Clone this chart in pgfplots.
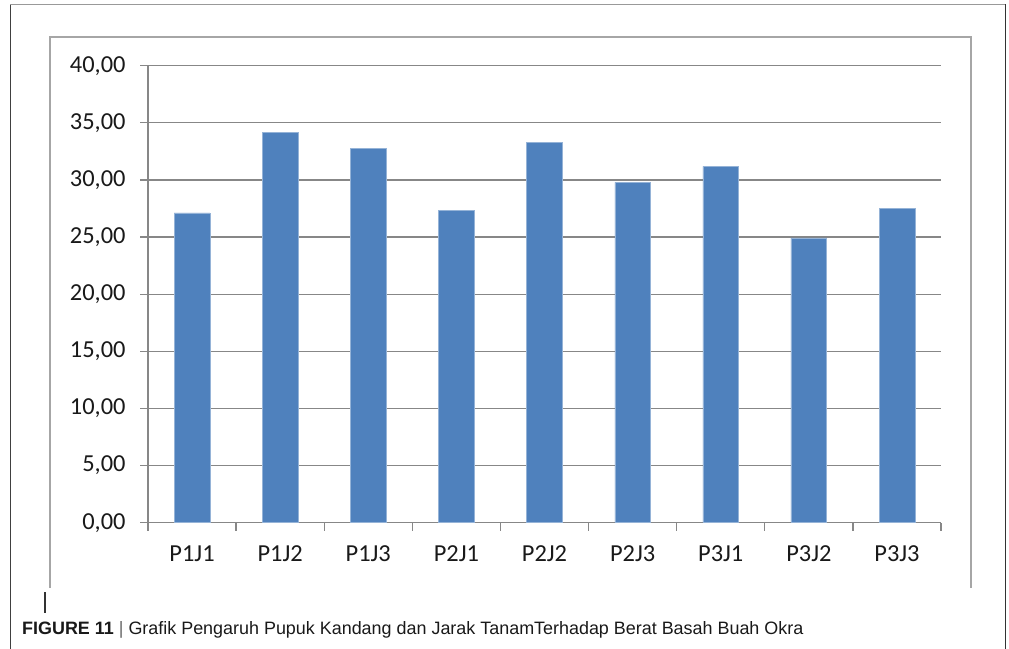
\documentclass[border=0pt]{standalone}
\usepackage{pgfplots}
\pgfplotsset{compat=1.18}
\usepackage{fontspec}
\setmainfont{Liberation Sans}
\newfontfamily\calibri{Carlito}
\definecolor{barblue}{HTML}{4F81BD}
\definecolor{gridgray}{HTML}{878787}
\definecolor{framegray}{HTML}{A6A6A6}

\begin{document}
\begin{tikzpicture}
\useasboundingbox (0bp,0bp) rectangle (1009bp,-649bp);
% page frame
\draw[black!75,line width=1bp] (10bp,-649bp) -- (10bp,-4bp);
\draw[gray!80,line width=1bp] (10bp,-4bp) -- (1005.5bp,-4bp);
\draw[black!80,line width=1bp] (1005.5bp,-4bp) -- (1005.5bp,-649bp);
% chart area frame
\draw[framegray,line width=1.5bp] (50bp,-588bp) -- (50bp,-37bp) -- (971bp,-37bp) -- (971bp,-588bp);

\begin{axis}[
  at={(148bp,-522.7bp)},anchor=south west,
  scale only axis,width=793bp,height=457bp,
  xmin=-0.5,xmax=8.5,ymin=0,ymax=40,
  axis x line*=bottom,axis y line*=left,
  axis line style={gridgray,line width=1.3bp,-},
  ytick={0,5,...,40},
  yticklabels={{0,00},{5,00},{10,00},{15,00},{20,00},{25,00},{30,00},{35,00},{40,00}},
  xtick={0,...,8},
  xticklabels={P1J1,P1J2,P1J3,P2J1,P2J2,P2J3,P3J1,P3J2,P3J3},
  minor xtick={-0.5,0.5,...,8.5},
  major x tick style={draw=none},
  minor x tick style={gridgray,line width=1.3bp},
  ytick style={gridgray,line width=1.3bp},
  tick align=outside,
  major tick length=8bp,minor tick length=8bp,
  ymajorgrids,
  major grid style={gridgray,line width=1.3bp},
  /pgf/number format/assume math mode=true,
  tick label style={font=\calibri\fontsize{24.5}{27}\selectfont,black!90},
  xticklabel style={anchor=base,text height=17bp,text depth=5bp,yshift=-31bp},
  yticklabel style={xshift=-11bp},
]
\addplot[ybar,bar width=35.7bp,fill=barblue,draw=barblue!60!white,line width=0.5bp] coordinates {
  (0,27.12)(1,34.16)(2,32.75)(3,27.35)(4,33.28)(5,29.78)(6,31.18)(7,24.93)(8,27.50)};
\end{axis}

\draw[black!80,line width=1.5bp] (45bp,-592bp) -- (45bp,-613bp);
\node[anchor=base west,inner sep=0pt,font=\fontsize{18}{22}\selectfont,black!90] at (22bp,-634bp)
  {\textbf{FIGURE 11} {\color{black!60}|} Grafik Pengaruh Pupuk Kandang dan Jarak TanamTerhadap Berat Basah Buah Okra};
\end{tikzpicture}
\end{document}
